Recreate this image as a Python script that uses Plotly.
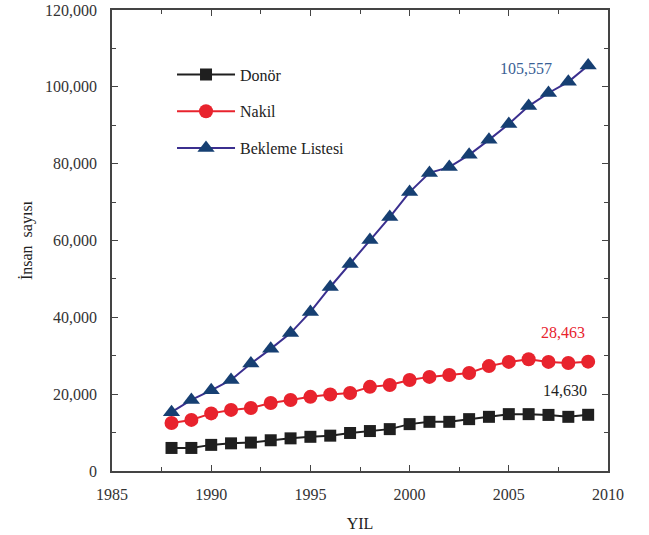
import plotly.graph_objects as go

years = list(range(1988, 2010))
donor = [6000, 6000, 6800, 7200, 7400, 8000, 8500, 8900, 9200, 9900, 10400, 10900,
         12200, 12800, 12800, 13500, 14100, 14800, 14800, 14600, 14100, 14630]
nakil = [12500, 13300, 15000, 15900, 16400, 17700, 18500, 19300, 19900, 20300, 21900, 22400,
         23700, 24500, 25000, 25500, 27300, 28400, 29100, 28400, 28100, 28463]
bekleme = [15300, 18500, 21000, 23700, 28000, 31800, 35900, 41400, 47900, 53900, 60100, 66100,
           72600, 77600, 79100, 82300, 86200, 90300, 95000, 98400, 101300, 105557]

names = ["Donör", "Nakil", "Bekleme Listesi"]
end_labels = ["14,630", "28,463", "105,557"]

FONT = "Liberation Serif, Times New Roman, serif"

fig = go.Figure()
fig.add_trace(go.Scatter(x=years, y=donor, name=names[0], mode="lines+markers",
                         line=dict(color="#1f1f1f", width=2),
                         marker=dict(symbol="square", size=12, color="#1f1f1f"),
                         legendgroup="a"))
fig.add_trace(go.Scatter(x=years, y=nakil, name=names[1], mode="lines+markers",
                         line=dict(color="#e8232d", width=2),
                         marker=dict(symbol="circle", size=14, color="#e8232d"),
                         legendgroup="b"))
fig.add_trace(go.Scatter(x=years, y=bekleme, name=names[2], mode="lines+markers",
                         line=dict(color="#3b2f8f", width=2),
                         marker=dict(symbol="triangle-up", size=15, color="#163f72"),
                         legendgroup="c"))

fig.add_annotation(x=2009, y=bekleme[-1], text=end_labels[2], showarrow=False,
                   xanchor="right", yanchor="bottom", xshift=-34, yshift=-14,
                   font=dict(family=FONT, size=16, color="#3a5f95"))
fig.add_annotation(x=2009, y=nakil[-1], text=end_labels[1], showarrow=False,
                   xanchor="right", yanchor="bottom", xshift=-1, yshift=19,
                   font=dict(family=FONT, size=16, color="#e8232d"))
fig.add_annotation(x=2009, y=donor[-1], text=end_labels[0], showarrow=False,
                   xanchor="right", yanchor="bottom", xshift=1, yshift=14,
                   font=dict(family=FONT, size=16, color="#1f1f1f"))

axis_common = dict(showline=True, linecolor="#444", linewidth=1.5, mirror="ticks",
                   ticks="inside", ticklen=6, tickcolor="#444", showgrid=False,
                   zeroline=False, automargin=False,
                   tickfont=dict(family=FONT, size=16, color="#333"))

fig.update_layout(
    width=649, height=535,
    margin=dict(l=112, r=41, t=10, b=64),
    paper_bgcolor="white", plot_bgcolor="white",
    font=dict(family=FONT, color="#222"),
    xaxis=dict(range=[1985, 2010], dtick=5, tick0=1985, ticklabelstandoff=8,
               minor=dict(ticks="inside", ticklen=4, dtick=2.5, tickcolor="#444"),
               title=dict(text="YIL", font=dict(family=FONT, size=16), standoff=16),
               **axis_common),
    yaxis=dict(range=[0, 120000], dtick=20000, tickformat=",", ticklabelstandoff=10,
               minor=dict(ticks="inside", ticklen=4, dtick=10000, tickcolor="#444"),
               title=dict(text="İnsan  sayısı", font=dict(family=FONT, size=16), standoff=8),
               **axis_common),
    legend=dict(x=0.121, y=0.897, xanchor="left", yanchor="top",
                bgcolor="rgba(0,0,0,0)", tracegroupgap=13, itemwidth=58,
                font=dict(family=FONT, size=16, color="#222")),
    showlegend=True,
)

fig.write_html("out.html", config={"displayModeBar": False},
               post_script="document.body.style.margin='0';")
